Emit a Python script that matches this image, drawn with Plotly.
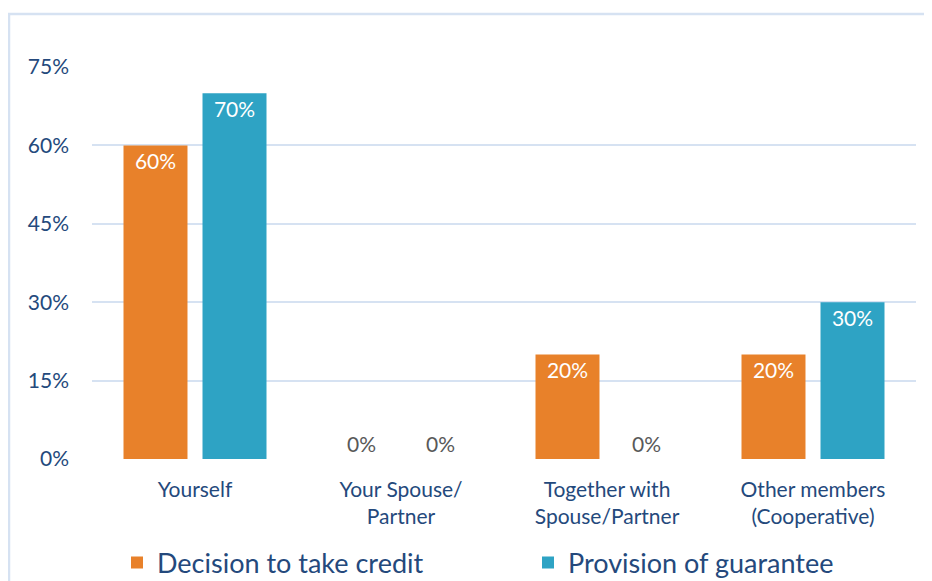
import plotly.graph_objects as go

categories = ["Yourself", "Your Spouse/<br>Partner", "Together with<br>Spouse/Partner", "Other members<br>(Cooperative)"]
series_names = ["Decision to take credit", "Provision of guarantee"]
decision = [60, 0, 20, 20]
guarantee = [70, 0, 0, 30]
y_ticks = [0, 15, 30, 45, 60, 75]
colors = ["#e8812a", "#2ea3c4"]

FONT = "Lato, 'Open Sans', sans-serif"
BLUE = "#24497c"

W, H = 932, 581
OFF = 8  # page body margin
# target pixel positions on the page
PL, PR, PT, PB = 92, 916, 67, 459
ml = PL - OFF
mt = PT - OFF
mr = W - (PR - OFF)
mb = H - (PB - OFF)
pw, ph = W - ml - mr, H - mt - mb

def px_x(p):
    return (p - OFF - ml) / pw

def px_y(p):
    return (H - mb - (p - OFF)) / ph

fig = go.Figure()
for i, (name, vals, col) in enumerate(zip(series_names, [decision, guarantee], colors)):
    fig.add_trace(go.Bar(
        x=categories, y=vals, name=name,
        marker=dict(color=col, line=dict(width=0)),
        text=[f"{v}%" for v in vals],
        textposition=["inside" if v > 0 else "outside" for v in vals],
        insidetextanchor="end",
        textfont=dict(size=21, family=FONT,
                      color=["white" if v > 0 else "#595959" for v in vals]),
        constraintext="none",
        cliponaxis=False,
        hoverinfo="skip",
        legend="legend" if i == 0 else "legend2",
    ))

fig.add_shape(type="path", xref="paper", yref="paper",
              path=f"M {px_x(9)} {px_y(600)} L {px_x(9)} {px_y(14)} L {px_x(960)} {px_y(14)}",
              line=dict(color="#d6e2f2", width=2.5), layer="below")

legend_common = dict(yanchor="middle", xanchor="left", y=px_y(563),
                     font=dict(size=27, family=FONT, color=BLUE),
                     bgcolor="rgba(0,0,0,0)", itemwidth=30)

fig.update_layout(
    width=W, height=H,
    margin=dict(l=ml, r=mr, t=mt, b=mb, autoexpand=False),
    paper_bgcolor="white", plot_bgcolor="white",
    barmode="group", bargap=0.233, bargroupgap=0.19,
    showlegend=True,
    legend=dict(x=px_x(117), **legend_common),
    legend2=dict(x=px_x(528), **legend_common),
    xaxis=dict(showgrid=False, showline=False, ticks="",
               tickfont=dict(size=21, family=FONT, color=BLUE),
               ticklabelstandoff=16),
    yaxis=dict(range=[0, 75], tickvals=y_ticks, ticktext=[f"{t}%" for t in y_ticks],
               showgrid=True, gridcolor="#d6e2f2", gridwidth=2,
               zeroline=False, showline=False, ticks="",
               tickfont=dict(size=21, family=FONT, color=BLUE),
               ticklabelstandoff=22),
    font=dict(family=FONT),
)

fig.write_html("out.html")
